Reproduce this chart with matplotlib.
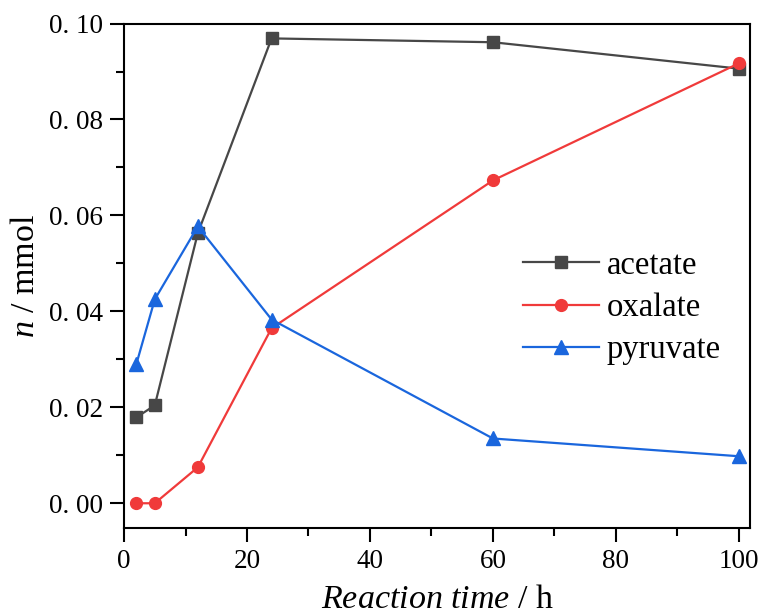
import matplotlib
matplotlib.use("Agg")
import matplotlib.pyplot as plt
from matplotlib.ticker import MultipleLocator, FuncFormatter

time_h = [2, 5, 12, 24, 60, 100]
acetate = [0.0179, 0.0204, 0.0563, 0.0969, 0.0961, 0.0906]
oxalate = [0.0000, 0.0000, 0.0075, 0.0365, 0.0673, 0.0917]
pyruvate = [0.0290, 0.0425, 0.0577, 0.0383, 0.0135, 0.0098]

plt.rcParams['font.family'] = ['Liberation Serif', 'DejaVu Serif']
plt.rcParams['mathtext.fontset'] = 'custom'
plt.rcParams['mathtext.rm'] = 'Liberation Serif'
plt.rcParams['mathtext.it'] = 'Liberation Serif:italic'

fig = plt.figure(figsize=(7.61, 6.16), dpi=100)
ax = fig.add_axes([0.163, 0.1433, 0.8225, 0.8185])

ax.plot(time_h, acetate, color='#474747', marker='s', markersize=8, lw=1.6, label='acetate')
ax.plot(time_h, oxalate, color='#f03a3a', marker='o', markersize=8.5, lw=1.6, label='oxalate')
ax.plot(time_h, pyruvate, color='#1a66dd', marker='^', markersize=9.5, lw=1.6, label='pyruvate')

ax.set_xlim(0, 101.8)
ax.set_ylim(-0.0051, 0.1)
ax.xaxis.set_major_locator(MultipleLocator(20))
ax.xaxis.set_minor_locator(MultipleLocator(10))
ax.yaxis.set_major_locator(MultipleLocator(0.02))
ax.yaxis.set_minor_locator(MultipleLocator(0.01))
ax.yaxis.set_major_formatter(FuncFormatter(lambda v, p: ("%.2f" % v).replace('.', '. ')))

for s in ax.spines.values():
    s.set_linewidth(1.5)
ax.tick_params(which='major', direction='out', length=10, width=1.5, labelsize=19.5, pad=5)
ax.tick_params(which='minor', direction='out', length=5.5, width=1.5)
ax.tick_params(top=False, right=False)

ax.set_xlabel(r'$Reaction\ time$ / h', fontsize=24.5, labelpad=8)
ax.set_ylabel(r'$n$ / mmol', fontsize=24.5, labelpad=6)

ax.legend(loc='center left', bbox_to_anchor=(0.59, 0.436), frameon=False, fontsize=23.5,
          handlelength=2.33, handletextpad=0.25, labelspacing=0.36, borderpad=0.4)

fig.savefig('out.png', dpi=100)
